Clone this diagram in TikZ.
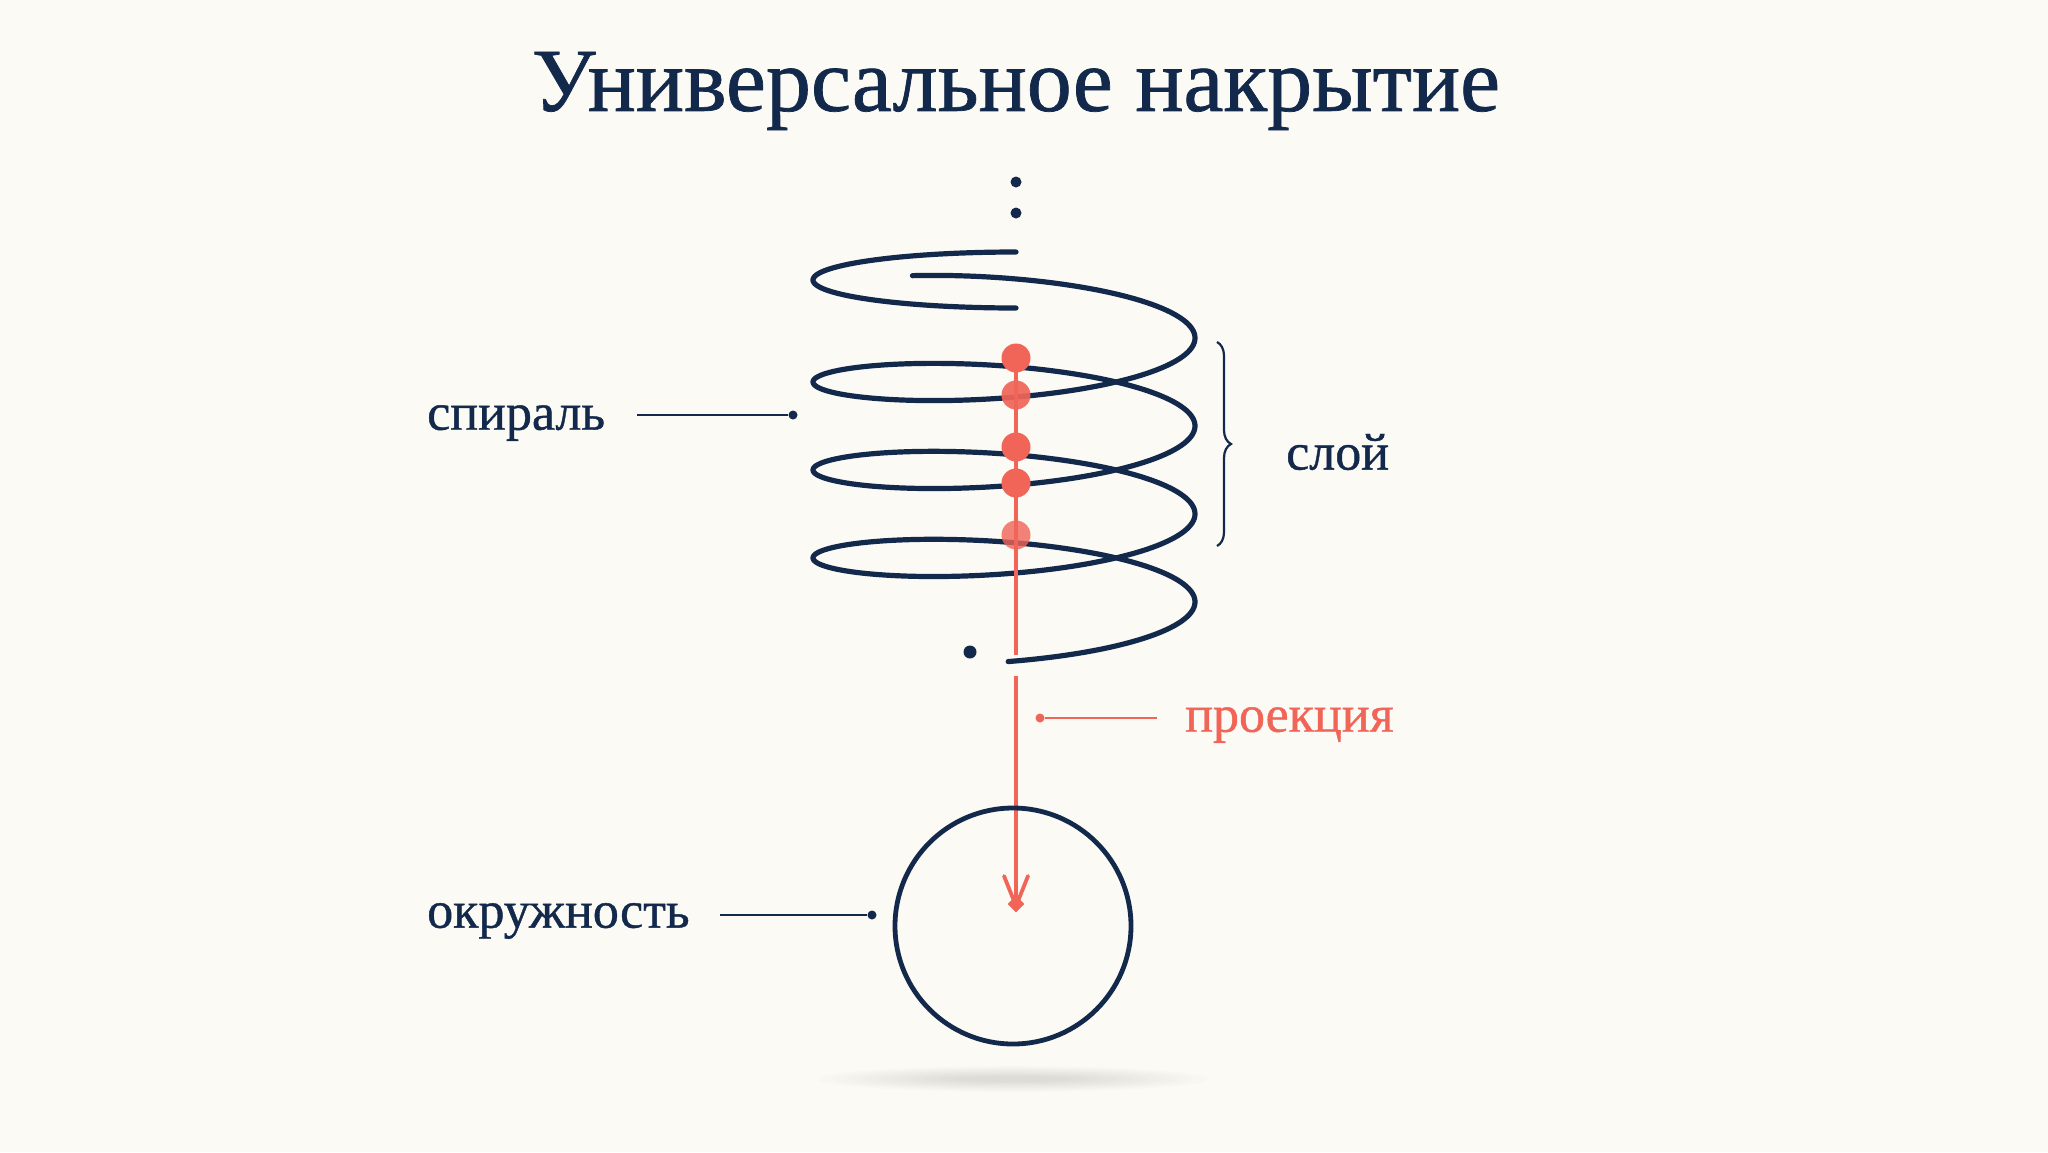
\documentclass[tikz,border=0pt]{standalone}
\usepackage{fontspec}
\setmainfont{Liberation Serif}[FakeBold=0.8]
\usetikzlibrary{arrows.meta,decorations.pathreplacing,shapes.geometric}
\definecolor{bg}{HTML}{FCFAF5}
\definecolor{navy}{HTML}{13294B}
\definecolor{coral}{HTML}{F06558}
\tikzset{
  lbl/.style={font=\fontsize{52}{62}\selectfont, text=navy, inner sep=0},
  lead/.style={navy, line width=2.4pt},
  leaddot/.style={circle, fill=navy, inner sep=0, minimum size=9pt},
  curve/.style={navy, line width=5.2pt, line cap=round},
  rdot/.style={circle, fill=coral, inner sep=0, minimum size=29pt},
}
\begin{document}
\begin{tikzpicture}[x=1pt,y=-1pt]
\useasboundingbox[fill=bg] (0,0) rectangle (2048,1152);
% shadow
\foreach \i in {1,...,10}{
  \fill[black, opacity=0.012] (1013,1079) ellipse ({210-\i*15} and {14-\i*1.1});
}
\node[font=\fontsize{90}{100}\selectfont, text=navy] (title) at (1016,91) {Универсальное накрытие};
% dots above
\node[leaddot, minimum size=11pt] (d1) at (1016,182) {};
\node[leaddot, minimum size=11pt] (d2) at (1016,213) {};
% top partial loop
\draw[curve, domain=0:180, samples=80, smooth, variable=\t]
  plot ({1016-203*sin(\t)}, {280-28*cos(\t)});
% helix
\draw[curve, domain=-0.5:21.97, samples=500, smooth, variable=\u]
  plot ({1004+191*sin(\u r)}, {316+14*\u-38*cos(\u r)});
\node[leaddot, minimum size=13pt] (d3) at (970,652) {};
% red projection line
\draw[coral, line width=4.2pt] (1016,358) -- (1016,655);
\coordinate (ps) at (1016,676);
\coordinate (pt) at (1016,906);
\draw[coral, line width=4.2pt] (ps) -- (pt);
\draw[coral, line width=3.8pt, line cap=round] (1004,876) -- (pt) -- (1028,876);
\node[diamond, fill=coral, inner sep=0, minimum size=17pt] at (1016,904) {};
% red dots
\node[rdot] (r1) at (1016,358) {};
\node[rdot, opacity=0.92] (r2) at (1016,395) {};
\node[rdot] (r3) at (1016,447) {};
\node[rdot] (r4) at (1016,483) {};
\node[rdot, opacity=0.8] (r5) at (1016,535) {};
% circle
\node[circle, draw=navy, line width=4.8pt, minimum size=236pt, inner sep=0] (circ) at (1013,926) {};
% labels
\node[lbl, anchor=west] (spiral) at (427,423) {спираль};
\node[leaddot] (sd) at (793,415) {};
\draw[lead] (637,415) -- (sd);
\node[lbl, anchor=west] (sloy) at (1286,452) {слой};
\draw[navy, line width=2.2pt, decorate, decoration={brace, amplitude=14pt}] (1217,342) -- (1217,546);
\node[lbl, anchor=west, text=coral] (proj) at (1185,725) {проекция};
\node[circle, fill=coral, inner sep=0, minimum size=9pt] (pd) at (1040,718) {};
\draw[coral, line width=2.4pt] (pd) -- (1157,718);
\node[lbl, anchor=west] (okr) at (427,921) {окружность};
\node[leaddot] (od) at (872,915) {};
\draw[lead] (720,915) -- (od);
\end{tikzpicture}
\end{document}
